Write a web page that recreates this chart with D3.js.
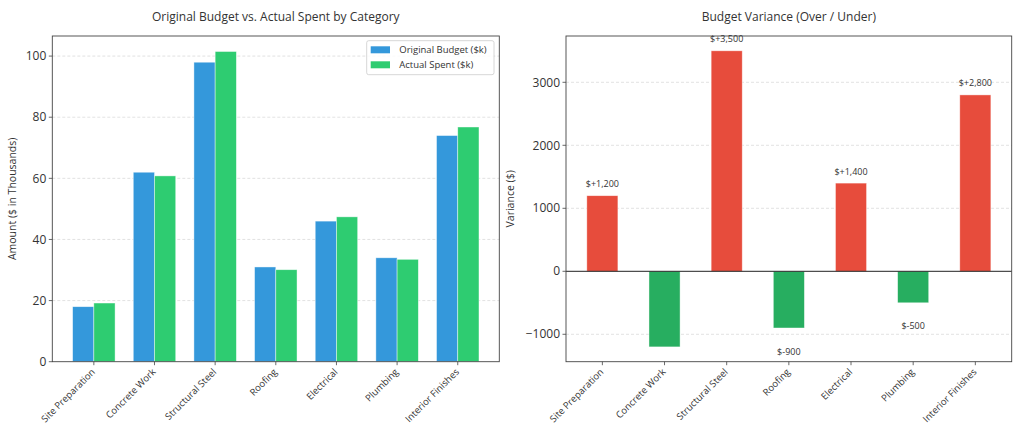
<!DOCTYPE html>
<html><head><meta charset="utf-8">
<script src="https://cdn.jsdelivr.net/npm/d3@7"></script>
<style>
body{margin:0;background:#fff;}
text{font-family:"Open Sans",sans-serif;fill:#333;}
</style></head>
<body><svg id="c" width="1024" height="439"></svg>
<script>
const categories = ["Site Preparation","Concrete Work","Structural Steel","Roofing","Electrical","Plumbing","Interior Finishes"];
const budget = [18, 62, 98, 31, 46, 34, 74];
const actual = [19.2, 60.8, 101.5, 30.1, 47.4, 33.5, 76.8];
const variance = [1200, -1200, 3500, -900, 1400, -500, 2800];
const leftTicks = [0, 20, 40, 60, 80, 100];
const rightTicks = [-1000, 0, 1000, 2000, 3000];
const seriesNames = ["Original Budget ($k)", "Actual Spent ($k)"];

const svg = d3.select("#c");
const C = {blue:"#3498db", green:"#2ecc71", red:"#e74c3c", dgreen:"#27ae60", spine:"#444", grid:"#d6d6d6"};

function frame(g, x0, x1, y0, y1, title, ylabel, ylabX) {
  g.append("text").attr("x",(x0+x1)/2).attr("y",21).attr("text-anchor","middle")
   .style("font-size","12px").text(title);
  g.append("text").attr("transform",`translate(${ylabX},${(y0+y1)/2}) rotate(-90)`)
   .attr("text-anchor","middle").style("font-size","10.5px").text(ylabel);
}
function xTickLabels(g, xs, y) {
  categories.forEach((c,i)=>{
    const x = xs(i);
    g.append("line").attr("x1",x).attr("x2",x).attr("y1",y).attr("y2",y+3.5).attr("stroke",C.spine).attr("stroke-width",0.8);
    g.append("text").attr("transform",`translate(${x-0.5},${y+8.5}) rotate(-45)`)
     .attr("text-anchor","end").attr("dy","0.35em").style("font-size","9.5px").text(c);
  });
}

// LEFT
{
  const L=52.3, R=499.3, T=36, B=361.7;
  const x = d3.scaleLinear().domain([-0.685, 6.685]).range([L,R]);
  const y = d3.scaleLinear().domain([0, 106.575]).range([B,T]);
  const g = svg.append("g");
  frame(g,L,R,T,B,"Original Budget vs. Actual Spent by Category","Amount ($ in Thousands)",16);
  g.selectAll(".gl").data(leftTicks.filter(t=>t>0)).enter().append("line")
   .attr("x1",L).attr("x2",R).attr("y1",d=>y(d)).attr("y2",d=>y(d))
   .attr("stroke",C.grid).attr("stroke-dasharray","3,2").attr("stroke-width",0.7);
  const w = x(0.35)-x(0);
  g.selectAll(".b1").data(budget).enter().append("rect")
   .attr("x",(d,i)=>x(i-0.35)).attr("width",w).attr("y",d=>y(d)).attr("height",d=>y(0)-y(d))
   .attr("fill",C.blue).attr("stroke","#fff").attr("stroke-opacity",0.6).attr("stroke-width",0.7);
  g.selectAll(".b2").data(actual).enter().append("rect")
   .attr("x",(d,i)=>x(i)).attr("width",w).attr("y",d=>y(d)).attr("height",d=>y(0)-y(d))
   .attr("fill",C.green).attr("stroke","#fff").attr("stroke-opacity",0.6).attr("stroke-width",0.7);
  g.append("rect").attr("x",L).attr("y",T).attr("width",R-L).attr("height",B-T)
   .attr("fill","none").attr("stroke",C.spine).attr("stroke-width",0.9);
  leftTicks.forEach(t=>{
    g.append("line").attr("x1",L-3.5).attr("x2",L).attr("y1",y(t)).attr("y2",y(t)).attr("stroke",C.spine).attr("stroke-width",0.8);
    g.append("text").attr("x",L-6).attr("y",y(t)).attr("dy","0.35em").attr("text-anchor","end").style("font-size","12px").text(t);
  });
  xTickLabels(g, i=>x(i), B);
  // legend
  const lg = g.append("g");
  lg.append("rect").attr("x",366.7).attr("y",40.7).attr("width",127.3).attr("height",34).attr("rx",2)
    .attr("fill","#fff").attr("fill-opacity",0.8).attr("stroke","#ccc").attr("stroke-width",0.8);
  [C.blue,C.green].forEach((col,i)=>{
    lg.append("rect").attr("x",370.7).attr("y",46.3+i*15).attr("width",19.3).attr("height",7).attr("fill",col);
    lg.append("text").attr("x",399.3).attr("y",50+i*15).attr("dy","0.35em").style("font-size","9.5px").text(seriesNames[i]);
  });
}

// RIGHT
{
  const L=566, R=1011.7, T=36, B=361.7;
  const x = d3.scaleLinear().domain([-0.585, 6.585]).range([L,R]);
  const y = d3.scaleLinear().domain([-1435, 3735]).range([B,T]);
  const g = svg.append("g");
  frame(g,L,R,T,B,"Budget Variance (Over / Under)","Variance ($)",514);
  g.selectAll(".gl").data(rightTicks.filter(t=>t!==0)).enter().append("line")
   .attr("x1",L).attr("x2",R).attr("y1",d=>y(d)).attr("y2",d=>y(d))
   .attr("stroke",C.grid).attr("stroke-dasharray","3,2").attr("stroke-width",0.7);
  const w = x(0.5)-x(0);
  g.selectAll(".bv").data(variance).enter().append("rect")
   .attr("x",(d,i)=>x(i-0.25)).attr("width",w)
   .attr("y",d=>y(Math.max(0,d))).attr("height",d=>Math.abs(y(d)-y(0)))
   .attr("fill",d=>d>0?C.red:C.dgreen).attr("stroke","#fff").attr("stroke-opacity",0.6).attr("stroke-width",0.7);
  g.append("line").attr("x1",L).attr("x2",R).attr("y1",y(0)).attr("y2",y(0)).attr("stroke","#222").attr("stroke-width",1);
  g.append("rect").attr("x",L).attr("y",T).attr("width",R-L).attr("height",B-T)
   .attr("fill","none").attr("stroke",C.spine).attr("stroke-width",0.9);
  const fmt = d3.format(",");
  variance.forEach((v,i)=>{
    const ly = v>0 ? v+100 : v-300;
    if (ly < y.domain()[0]) return;
    g.append("text").attr("x",x(i)).attr("y",y(ly))
     .attr("dy", v>0 ? "-0.25em" : "0.85em").attr("text-anchor","middle")
     .style("font-size","9px").text("$" + (v>0?"+":"-") + fmt(Math.abs(v)));
  });
  rightTicks.forEach(t=>{
    g.append("line").attr("x1",L-3.5).attr("x2",L).attr("y1",y(t)).attr("y2",y(t)).attr("stroke",C.spine).attr("stroke-width",0.8);
    g.append("text").attr("x",L-6).attr("y",y(t)).attr("dy","0.35em").attr("text-anchor","end").style("font-size","12px").text(t<0?"\u2212"+Math.abs(t):t);
  });
  xTickLabels(g, i=>x(i), B);
}
</script></body></html>
